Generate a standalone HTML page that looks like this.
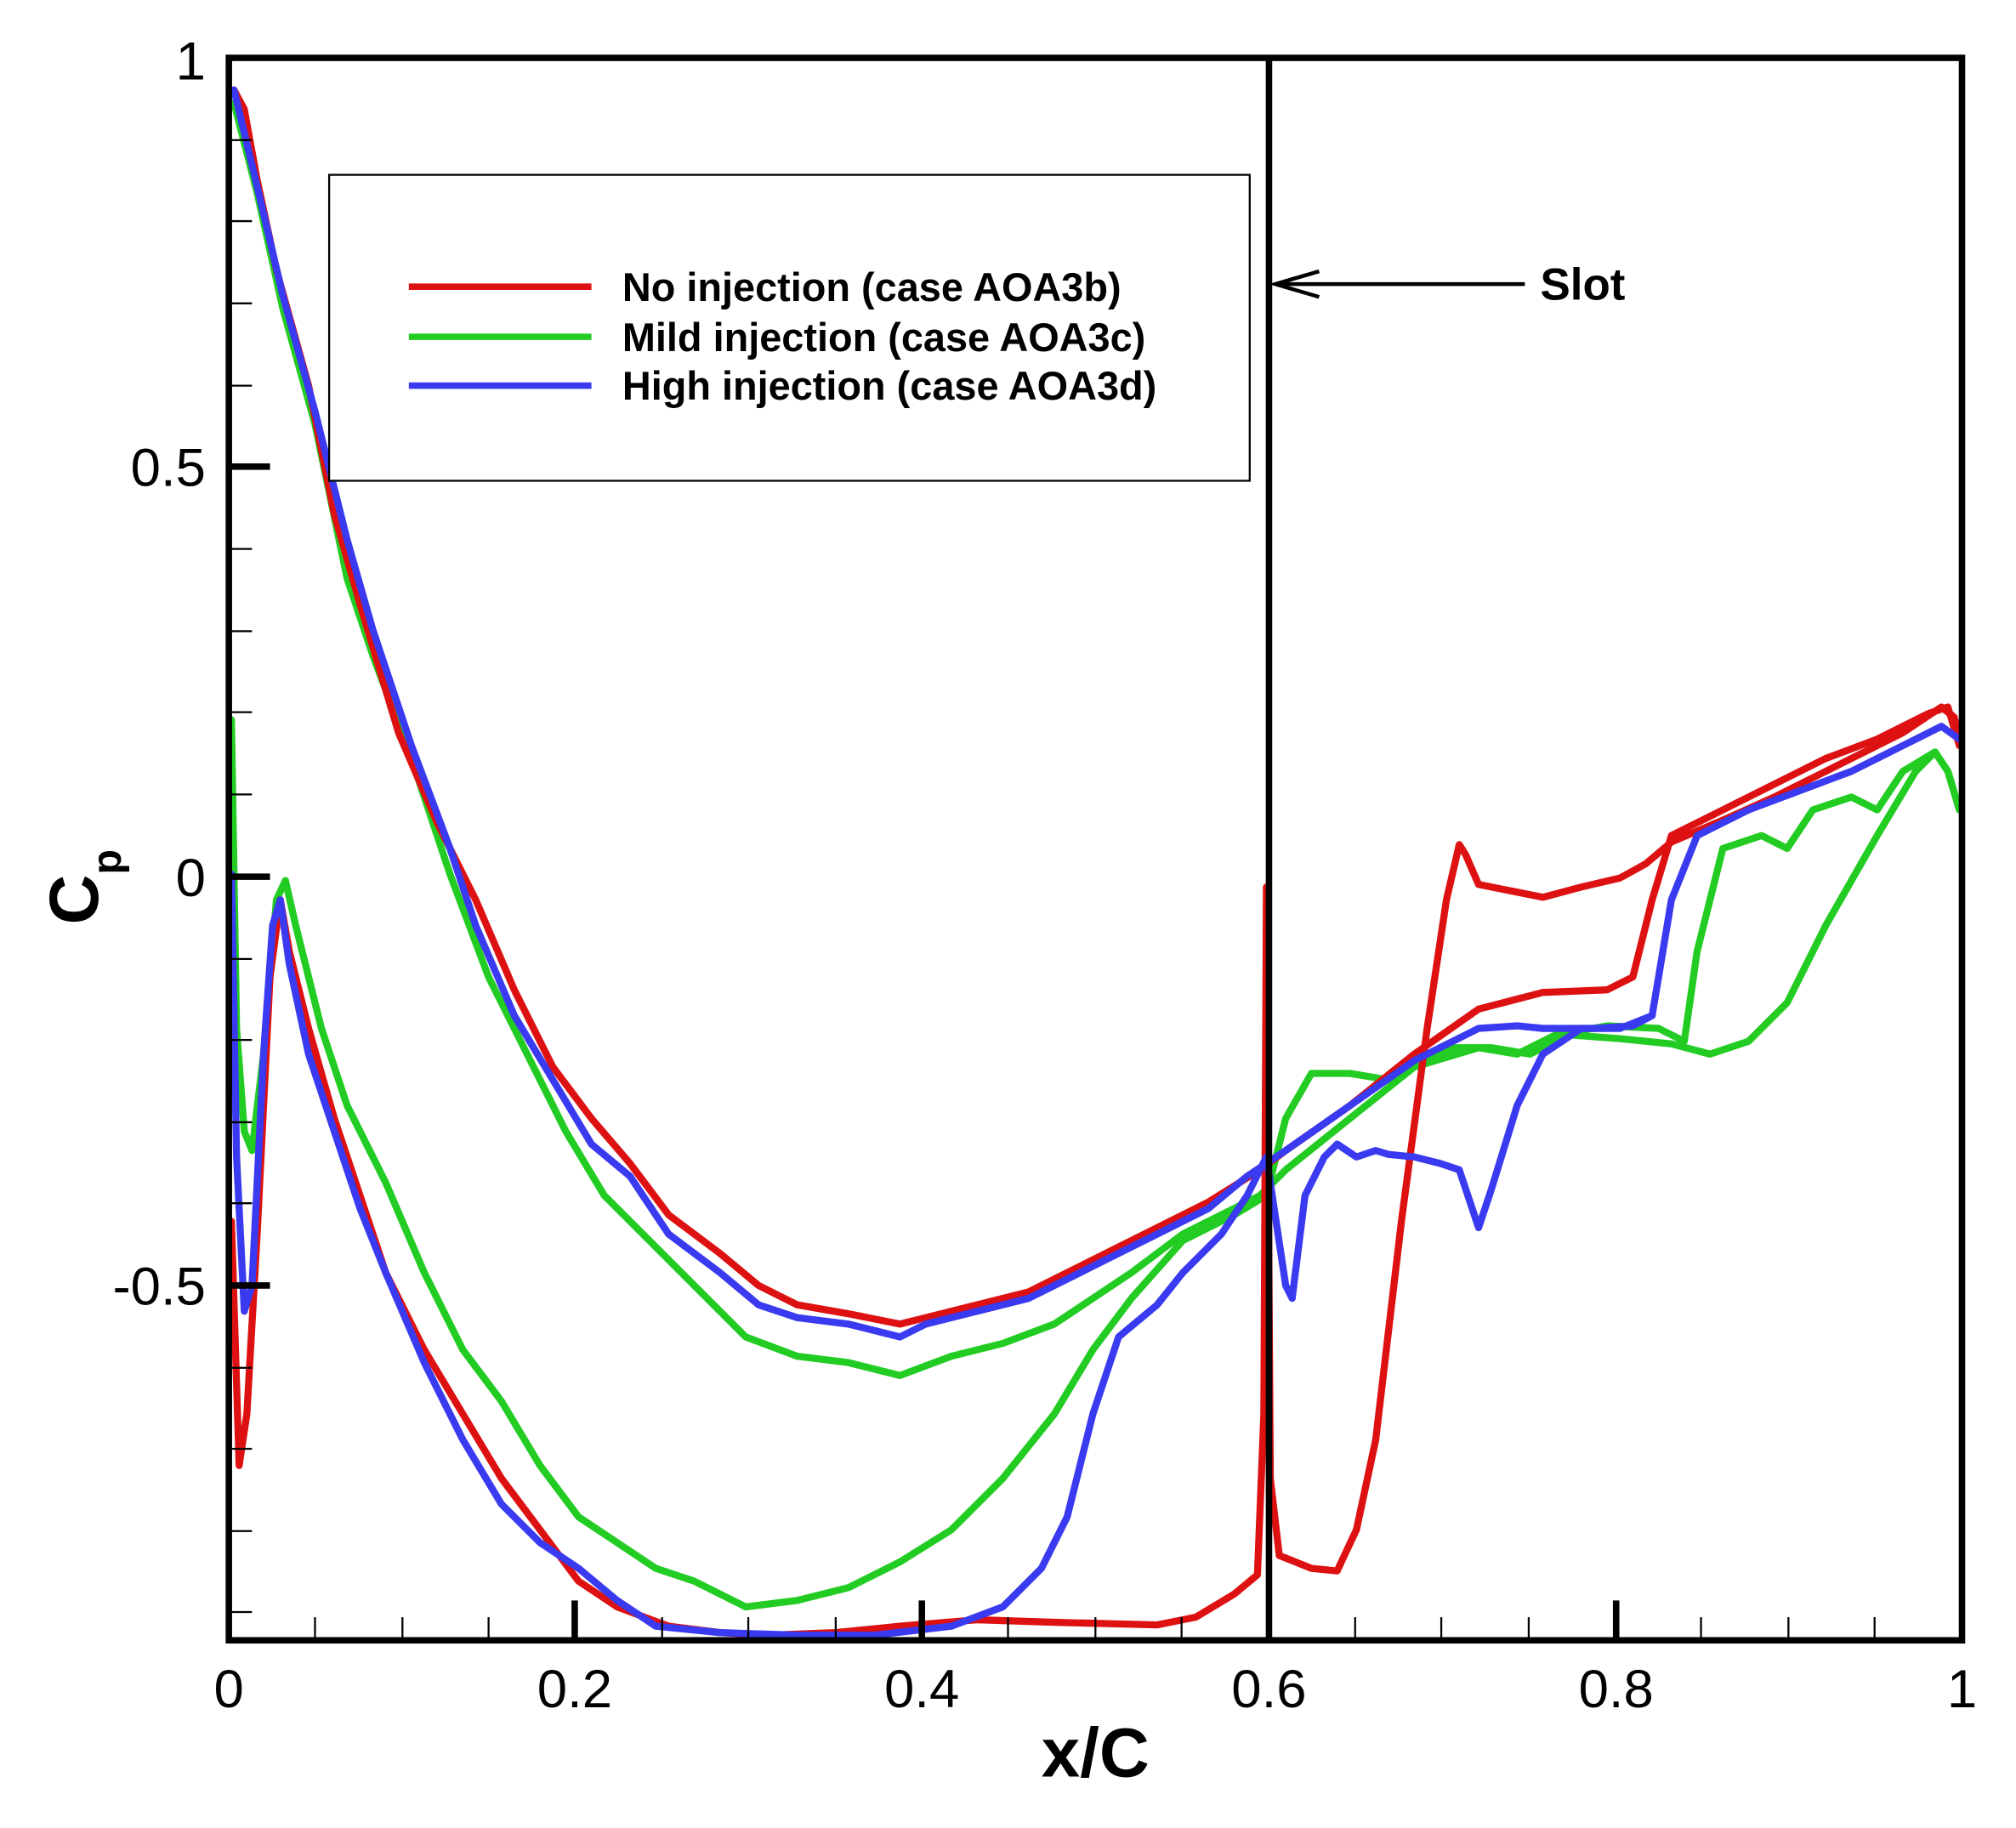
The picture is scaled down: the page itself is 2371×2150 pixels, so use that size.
<!DOCTYPE html>
<html><head><meta charset="utf-8"><style>html,body{margin:0;padding:0;background:#fff}svg{display:block}</style></head>
<body>
<svg width="2371" height="2150" viewBox="0 0 1568 1422" preserveAspectRatio="none" xmlns="http://www.w3.org/2000/svg" font-family="Liberation Sans, sans-serif">
<rect width="1568" height="1422" fill="#fff"/>
<g fill="none" stroke-width="5.5" stroke-linejoin="round" stroke-linecap="round">
<polyline stroke="#22cc22" points="182,80 200,150 220,240 245,330 270,450 290,510 320,590 350,680 380,760 410,820 440,880 470,930 500,960 530,990 560,1020 580,1040 620,1055 660,1060 700,1070 740,1055 780,1045 820,1030 850,1010 880,990 920,960 960,940 980,930 1000,910 1050,870 1100,830 1150,815 1180,820 1210,805 1250,798 1290,800 1310,810 1320,740 1340,660 1370,650 1390,660 1410,630 1440,620 1460,630 1480,600 1505,585 1515,600 1524,630"/>
<polyline stroke="#22cc22" points="180,560 184,800 190,880 196,895 205,820 215,700 222,685 230,720 250,800 270,860 300,920 330,990 360,1050 390,1090 420,1140 450,1180 480,1200 510,1220 540,1230 580,1250 620,1245 660,1235 700,1215 740,1190 780,1150 820,1100 850,1050 880,1010 920,965 960,945 985,930 1000,870 1020,835 1050,835 1080,840 1100,830 1130,815 1160,815 1190,820 1220,805 1260,808 1300,812 1330,820 1360,810 1390,780 1420,720 1460,650 1490,600 1505,585 1515,600 1524,630"/>
<polyline stroke="#dd1111" points="182,70 190,85 200,140 215,210 240,300 260,400 280,470 310,570 340,640 370,700 400,770 430,830 460,870 490,905 520,945 560,975 590,1000 620,1015 660,1022 700,1030 720,1025 760,1015 800,1005 850,980 900,955 940,935 980,910 1000,895 1050,860 1100,820 1150,785 1200,772 1250,770 1270,760 1285,700 1300,650 1340,630 1380,610 1420,590 1460,575 1500,555 1515,550 1524,580"/>
<polyline stroke="#dd1111" points="180,950 186,1140 192,1100 200,960 210,760 218,700 225,740 240,800 260,870 280,930 300,990 330,1050 360,1100 390,1150 420,1190 450,1230 480,1250 520,1265 560,1270 600,1272 650,1270 700,1265 760,1260 820,1262 900,1264 930,1258 960,1240 978,1225 983,1100 985,690 988,1150 995,1210 1020,1220 1040,1222 1055,1190 1070,1120 1090,950 1110,800 1125,700 1135,657 1140,665 1150,688 1170,692 1200,698 1230,690 1260,683 1280,672 1300,655 1340,638 1380,620 1420,600 1450,585 1480,570 1510,550 1520,558 1525,580"/>
<polyline stroke="#3a3af0" points="182,70 200,145 220,230 245,320 270,420 290,490 320,580 350,660 370,720 400,790 430,840 460,890 490,915 520,960 560,990 590,1015 620,1025 660,1030 700,1040 720,1030 760,1020 800,1010 850,985 900,960 940,940 970,915 985,905 1000,895 1050,860 1100,825 1150,800 1180,798 1200,800 1240,800 1270,798 1285,790 1300,700 1320,650 1360,630 1400,615 1440,600 1480,580 1510,565 1524,575"/>
<polyline stroke="#3a3af0" points="180,680 184,900 190,1020 196,1000 205,820 212,720 218,700 225,750 240,820 260,880 280,940 300,990 330,1060 360,1120 390,1170 420,1200 450,1220 480,1245 510,1265 560,1270 620,1272 680,1272 740,1265 780,1250 810,1220 830,1180 850,1100 870,1040 900,1015 920,990 950,960 970,930 985,900 1000,1000 1005,1010 1015,930 1030,900 1040,890 1055,900 1070,895 1080,898 1100,900 1120,905 1135,910 1150,955 1160,925 1180,860 1200,820 1230,800 1260,800 1285,790"/>
</g>
<rect x="178" y="45" width="1348" height="1231" fill="none" stroke="#000" stroke-width="5"/>
<line x1="987" y1="45" x2="987" y2="1276" stroke="#000" stroke-width="5"/>
<g stroke="#000" stroke-width="1.5">
<line x1="178" y1="109" x2="196" y2="109"/><line x1="178" y1="172" x2="196" y2="172"/><line x1="178" y1="236" x2="196" y2="236"/><line x1="178" y1="300" x2="196" y2="300"/>
<line x1="178" y1="427" x2="196" y2="427"/><line x1="178" y1="491" x2="196" y2="491"/><line x1="178" y1="554" x2="196" y2="554"/><line x1="178" y1="618" x2="196" y2="618"/>
<line x1="178" y1="746" x2="196" y2="746"/><line x1="178" y1="809" x2="196" y2="809"/><line x1="178" y1="873" x2="196" y2="873"/><line x1="178" y1="936" x2="196" y2="936"/>
<line x1="178" y1="1064" x2="196" y2="1064"/><line x1="178" y1="1127" x2="196" y2="1127"/><line x1="178" y1="1191" x2="196" y2="1191"/><line x1="178" y1="1254" x2="196" y2="1254"/>
<line x1="245" y1="1276" x2="245" y2="1258"/><line x1="313" y1="1276" x2="313" y2="1258"/><line x1="380" y1="1276" x2="380" y2="1258"/><line x1="515" y1="1276" x2="515" y2="1258"/><line x1="582" y1="1276" x2="582" y2="1258"/><line x1="650" y1="1276" x2="650" y2="1258"/><line x1="784" y1="1276" x2="784" y2="1258"/><line x1="852" y1="1276" x2="852" y2="1258"/><line x1="919" y1="1276" x2="919" y2="1258"/><line x1="1054" y1="1276" x2="1054" y2="1258"/><line x1="1121" y1="1276" x2="1121" y2="1258"/><line x1="1189" y1="1276" x2="1189" y2="1258"/><line x1="1323" y1="1276" x2="1323" y2="1258"/><line x1="1391" y1="1276" x2="1391" y2="1258"/><line x1="1458" y1="1276" x2="1458" y2="1258"/>
</g>
<g stroke="#000" stroke-width="5">
<line x1="178" y1="363" x2="210" y2="363"/><line x1="178" y1="682" x2="210" y2="682"/><line x1="178" y1="1000" x2="210" y2="1000"/>
<line x1="447" y1="1276" x2="447" y2="1245"/><line x1="717" y1="1276" x2="717" y2="1245"/><line x1="1257" y1="1276" x2="1257" y2="1245"/>
</g>
<g font-size="42" fill="#000">
<text x="160" y="62" text-anchor="end">1</text>
<text x="160" y="378" text-anchor="end">0.5</text>
<text x="160" y="697" text-anchor="end">0</text>
<text x="160" y="1015" text-anchor="end">-0.5</text>
<text x="178" y="1328" text-anchor="middle">0</text>
<text x="447" y="1328" text-anchor="middle">0.2</text>
<text x="717" y="1328" text-anchor="middle">0.4</text>
<text x="987" y="1328" text-anchor="middle">0.6</text>
<text x="1257" y="1328" text-anchor="middle">0.8</text>
<text x="1526" y="1328" text-anchor="middle">1</text>
</g>
<text x="852" y="1382" text-anchor="middle" font-size="54" font-weight="bold">x/C</text>
<g transform="translate(76,690) rotate(-90)"><text x="0" y="0" text-anchor="middle" font-size="54" font-weight="bold">C<tspan font-size="32" dy="18">p</tspan></text></g>
<rect x="256" y="136" width="716" height="238" fill="#fff" stroke="#000" stroke-width="1.5"/>
<g stroke-width="5"><line x1="318" y1="223" x2="460" y2="223" stroke="#dd1111"/><line x1="318" y1="262" x2="460" y2="262" stroke="#22cc22"/><line x1="318" y1="300" x2="460" y2="300" stroke="#3a3af0"/></g>
<g font-size="31" font-weight="bold"><text x="484" y="234">No injection (case AOA3b)</text><text x="484" y="273">Mild injection (case AOA3c)</text><text x="484" y="311">High injection (case AOA3d)</text></g>
<line x1="992" y1="221" x2="1186" y2="221" stroke="#000" stroke-width="3"/>
<polyline points="1026,211 992,221 1026,231" fill="none" stroke="#000" stroke-width="3"/>
<text x="1198" y="233" font-size="35" font-weight="bold">Slot</text>
</svg>
</body></html>
